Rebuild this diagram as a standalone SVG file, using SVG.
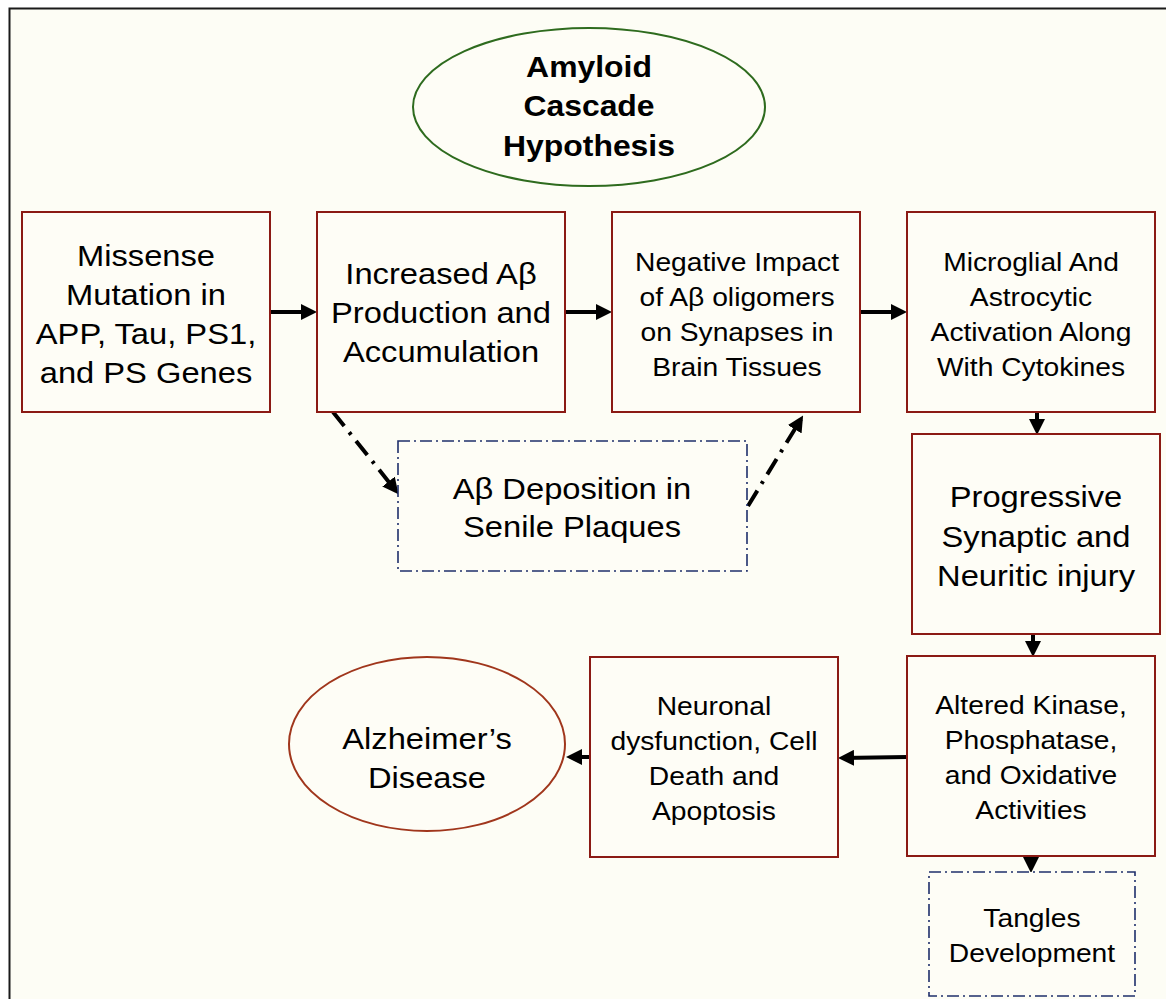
<svg xmlns="http://www.w3.org/2000/svg" width="1166" height="999" viewBox="0 0 1166 999">
<defs>
<style>
.bx{fill:#fefdf6;stroke:#8b1a14;stroke-width:2}
.dbx{fill:#fefdf6;stroke:#1f2f6b;stroke-width:1.6;stroke-dasharray:12 4 2 4}
.t{font-family:"Liberation Sans",Arial,sans-serif;fill:#000;text-anchor:middle}
.l{font-size:30px}
.m{font-size:25px}
.b{font-weight:bold;font-size:29px}
.c{stroke:#000;stroke-width:4;fill:none;marker-end:url(#ah)}
.cd{stroke:#000;stroke-width:4;fill:none;stroke-dasharray:18 8 3 8;marker-end:url(#ah)}
</style>
<marker id="ah" markerWidth="4" markerHeight="4" refX="3" refY="2" orient="auto" markerUnits="strokeWidth">
<path d="M0,0 L4,2 L0,4 z" fill="#000"/>
</marker>
</defs>
<rect x="0" y="0" width="1166" height="999" fill="#ffffff"/>
<rect x="9.5" y="8.5" width="1170" height="1000" fill="#fdfdf5" stroke="#1a1a1a" stroke-width="2"/>
<g id="connectors">
<line class="c" x1="270" y1="312" x2="313" y2="312"/>
<line class="c" x1="565" y1="312" x2="608" y2="312"/>
<line class="c" x1="860" y1="312" x2="903" y2="312"/>
<line class="c" x1="1037" y1="412" x2="1037" y2="431"/>
<line class="c" x1="1033" y1="634" x2="1033" y2="653"/>
<line class="c" x1="907" y1="757" x2="842" y2="758"/>
<line class="c" x1="590" y1="757" x2="570" y2="757"/>
<line class="c" x1="1031" y1="856" x2="1031" y2="869"/>
<line class="cd" x1="333" y1="412" x2="396" y2="491"/>
<line class="cd" x1="748" y1="506" x2="801" y2="419"/>
</g>
<g id="n-title">
<ellipse cx="589" cy="107" rx="176" ry="79" fill="#fefdf6" stroke="#2e6b1e" stroke-width="2"/>
<g transform="translate(589 0) scale(1.1 1)">
<text class="t b" x="0" y="77">Amyloid</text>
<text class="t b" x="0" y="116">Cascade</text>
<text class="t b" x="0" y="156">Hypothesis</text>
</g>
</g>
<g id="n-missense">
<rect class="bx" x="22" y="212" width="248" height="200"/>
<g transform="translate(146 0) scale(1.09 1)">
<text class="t l" x="0" y="266">Missense</text>
<text class="t l" x="0" y="305">Mutation in</text>
<text class="t l" x="0" y="344">APP, Tau, PS1,</text>
<text class="t l" x="0" y="383">and PS Genes</text>
</g>
</g>
<g id="n-increased">
<rect class="bx" x="317" y="212" width="248" height="200"/>
<g transform="translate(441 0) scale(1.09 1)">
<text class="t l" x="0" y="284">Increased Aβ</text>
<text class="t l" x="0" y="323">Production and</text>
<text class="t l" x="0" y="362">Accumulation</text>
</g>
</g>
<g id="n-negative">
<rect class="bx" x="612" y="212" width="248" height="200"/>
<g transform="translate(737 0) scale(1.13 1)">
<text class="t m" x="0" y="271">Negative Impact</text>
<text class="t m" x="0" y="306">of Aβ oligomers</text>
<text class="t m" x="0" y="341">on Synapses in</text>
<text class="t m" x="0" y="376">Brain Tissues</text>
</g>
</g>
<g id="n-microglial">
<rect class="bx" x="907" y="212" width="248" height="200"/>
<g transform="translate(1031 0) scale(1.13 1)">
<text class="t m" x="0" y="271">Microglial And</text>
<text class="t m" x="0" y="306">Astrocytic</text>
<text class="t m" x="0" y="341">Activation Along</text>
<text class="t m" x="0" y="376">With Cytokines</text>
</g>
</g>
<g id="n-deposition">
<rect class="dbx" x="398" y="441" width="349" height="130"/>
<g transform="translate(572 0) scale(1.09 1)">
<text class="t l" x="0" y="499">Aβ Deposition in</text>
<text class="t l" x="0" y="537">Senile Plaques</text>
</g>
</g>
<g id="n-progressive">
<rect class="bx" x="912" y="434" width="248" height="200"/>
<g transform="translate(1036 0) scale(1.09 1)">
<text class="t l" x="0" y="507">Progressive</text>
<text class="t l" x="0" y="547">Synaptic and</text>
<text class="t l" x="0" y="586">Neuritic injury</text>
</g>
</g>
<g id="n-altered">
<rect class="bx" x="907" y="656" width="248" height="200"/>
<g transform="translate(1031 0) scale(1.13 1)">
<text class="t m" x="0" y="714">Altered Kinase,</text>
<text class="t m" x="0" y="749">Phosphatase,</text>
<text class="t m" x="0" y="784">and Oxidative</text>
<text class="t m" x="0" y="819">Activities</text>
</g>
</g>
<g id="n-neuronal">
<rect class="bx" x="590" y="657" width="248" height="200"/>
<g transform="translate(714 0) scale(1.13 1)">
<text class="t m" x="0" y="715">Neuronal</text>
<text class="t m" x="0" y="750">dysfunction, Cell</text>
<text class="t m" x="0" y="785">Death and</text>
<text class="t m" x="0" y="820">Apoptosis</text>
</g>
</g>
<g id="n-alzheimer">
<ellipse cx="427" cy="744" rx="138" ry="87" fill="#fefdf6" stroke="#a0361c" stroke-width="2"/>
<g transform="translate(427 0) scale(1.09 1)">
<text class="t l" x="0" y="749">Alzheimer’s</text>
<text class="t l" x="0" y="788">Disease</text>
</g>
</g>
<g id="n-tangles">
<rect class="dbx" x="929" y="872" width="206" height="124"/>
<g transform="translate(1032 0) scale(1.13 1)">
<text class="t m" x="0" y="927">Tangles</text>
<text class="t m" x="0" y="962">Development</text>
</g>
</g>
</svg>
